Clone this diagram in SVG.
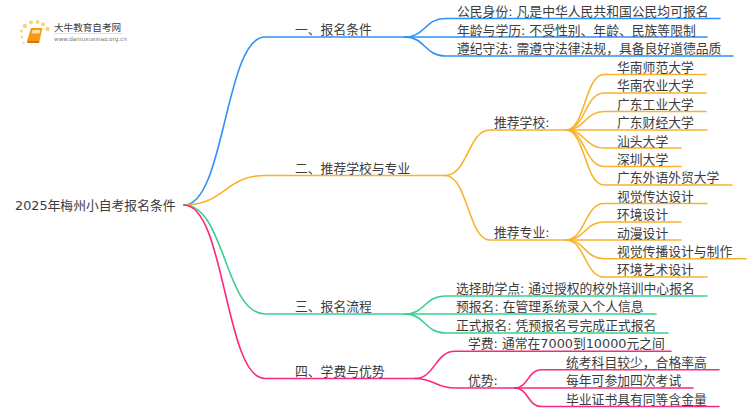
<svg xmlns="http://www.w3.org/2000/svg" width="750" height="410" viewBox="0 0 750 410">
<style>
text{font-family:"DejaVu Sans","Noto Sans CJK SC",sans-serif;font-size:12.8px;fill:#3c3c3c}
.l{fill:none;stroke-width:1.6;stroke-linecap:round}
.b{stroke:#2f90f5}.o{stroke:#f8b32e}.g{stroke:#3ccf8e}.p{stroke:#f9277f}
</style>
<rect width="750" height="410" fill="#fff"/>
<g id="connectors">
<path class="l b" d="M184 205C225 205 225 37 265 37H405"/>
<path class="l o" d="M184 205C225 205 225 175.500 265 175.500H445"/>
<path class="l g" d="M184 205C225 205 225 314 265 314H405"/>
<path class="l p" d="M184 205C225 205 225 378.500 265 378.500H415"/>
<path class="l b" d="M405 37C425 37 425 18.500 445 18.500H720"/>
<path class="l b" d="M405 37H707"/>
<path class="l b" d="M405 37C425 37 425 56 445 56H733"/>
<path class="l o" d="M445 175.500C468 175.500 468 130 490 130H566"/>
<path class="l o" d="M445 175.500C468 175.500 468 240 490 240H566"/>
<path class="l o" d="M566 130C585 130 585 74.500 604 74.500H706"/>
<path class="l o" d="M566 130C585 130 585 93 604 93H706"/>
<path class="l o" d="M566 130C585 130 585 111.500 604 111.500H706"/>
<path class="l o" d="M566 130H707"/>
<path class="l o" d="M566 130C585 130 585 148 604 148H681"/>
<path class="l o" d="M566 130C585 130 585 166.500 604 166.500H681"/>
<path class="l o" d="M566 130C585 130 585 185 604 185H732"/>
<path class="l o" d="M566 240C585 240 585 203.500 604 203.500H707"/>
<path class="l o" d="M566 240C585 240 585 222 604 222H681"/>
<path class="l o" d="M566 240H681"/>
<path class="l o" d="M566 240C585 240 585 258.700 604 258.700H746"/>
<path class="l o" d="M566 240C585 240 585 277 604 277H707"/>
<path class="l g" d="M405 314C425 314 425 296 445 296H707"/>
<path class="l g" d="M405 314H656"/>
<path class="l g" d="M405 314C425 314 425 333 445 333H668"/>
<path class="l p" d="M415 378.500C435 378.500 435 351.300 455 351.300H671"/>
<path class="l p" d="M415 378.500C435 378.500 435 388 455 388H515"/>
<path class="l p" d="M515 388C528 388 528 369.700 541 369.700H719"/>
<path class="l p" d="M515 388H693"/>
<path class="l p" d="M515 388C528 388 528 406.500 541 406.500H719"/>
</g>
<g id="logo">
<g fill="#fbd27a"><circle cx="25" cy="26" r="2.200"/><circle cx="31" cy="22.500" r="2"/><circle cx="37.500" cy="22" r="2"/><circle cx="43" cy="24.500" r="2"/><circle cx="47.500" cy="29" r="2.200"/><circle cx="21.500" cy="31" r="1.400"/><circle cx="22" cy="37" r="1.200"/><circle cx="23.500" cy="43" r="1"/></g>
<path d="M31 28H42.500L39.500 41H27Z" fill="#f49a16"/><path d="M32.500 30H40.500L39.500 33.500H31.700Z" fill="#fde1a6"/><path d="M27 41H39.500L39 43H27.500Z" fill="#e0700a"/>
<text x="54" y="31" style="font-size:9.600px">大牛教育自考网</text>
<path d="M54 33.500H122" stroke="#ccc" stroke-width=".6"/>
<text x="54" y="41" style="font-size:5.700px;fill:#777">www.daniuxuexiao.org.cn</text>
</g>
<g id="root"><text x="15" y="210">2025年梅州小自考报名条件</text></g>
<g id="n1"><text x="295" y="34">一、报名条件</text></g>
<g id="n2"><text x="295" y="173">二、推荐学校与专业</text></g>
<g id="n3"><text x="295" y="311">三、报名流程</text></g>
<g id="n4"><text x="295" y="376">四、学费与优势</text></g>
<g id="n1-1"><text x="457" y="16">公民身份: 凡是中华人民共和国公民均可报名</text></g>
<g id="n1-2"><text x="457" y="35">年龄与学历: 不受性别、年龄、民族等限制</text></g>
<g id="n1-3"><text x="457" y="53">遵纪守法: 需遵守法律法规，具备良好道德品质</text></g>
<g id="n2-1"><text x="494" y="127">推荐学校:</text></g>
<g id="n2-2"><text x="494" y="237">推荐专业:</text></g>
<g id="s1"><text x="617" y="72">华南师范大学</text></g>
<g id="s2"><text x="617" y="90">华南农业大学</text></g>
<g id="s3"><text x="617" y="109">广东工业大学</text></g>
<g id="s4"><text x="617" y="127">广东财经大学</text></g>
<g id="s5"><text x="617" y="146">汕头大学</text></g>
<g id="s6"><text x="617" y="164">深圳大学</text></g>
<g id="s7"><text x="617" y="182">广东外语外贸大学</text></g>
<g id="m1"><text x="617" y="201">视觉传达设计</text></g>
<g id="m2"><text x="617" y="219">环境设计</text></g>
<g id="m3"><text x="617" y="238">动漫设计</text></g>
<g id="m4"><text x="617" y="256">视觉传播设计与制作</text></g>
<g id="m5"><text x="617" y="274">环境艺术设计</text></g>
<g id="n3-1"><text x="456" y="293">选择助学点: 通过授权的校外培训中心报名</text></g>
<g id="n3-2"><text x="456" y="311">预报名: 在管理系统录入个人信息</text></g>
<g id="n3-3"><text x="456" y="330">正式报名: 凭预报名号完成正式报名</text></g>
<g id="n4-1"><text x="468" y="348">学费: 通常在7000到10000元之间</text></g>
<g id="n4-2"><text x="468" y="385">优势:</text></g>
<g id="a1"><text x="566" y="367">统考科目较少，合格率高</text></g>
<g id="a2"><text x="566" y="385">每年可参加四次考试</text></g>
<g id="a3"><text x="566" y="404">毕业证书具有同等含金量</text></g>
</svg>
